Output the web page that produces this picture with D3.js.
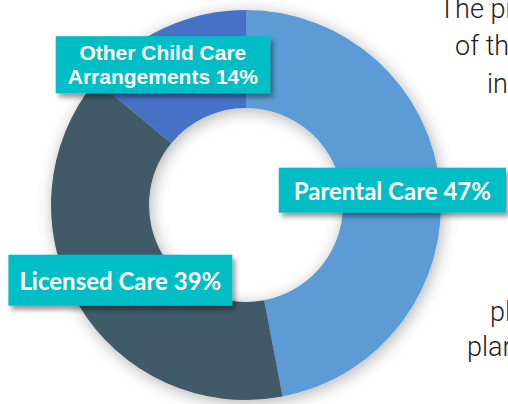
<!DOCTYPE html>
<html>
<head>
<meta charset="utf-8">
<script src="https://cdn.jsdelivr.net/npm/d3@7"></script>
<style>
  html, body { margin: 0; padding: 0; background: #fff; overflow: hidden; }
</style>
</head>
<body>
<div id="chart"></div>
<script>
// data
const categories = ['Parental Care', 'Licensed Care', 'Other Child Care Arrangements'];
const values = [47, 39, 14];
const labelLines = [
  ['Parental Care 47%'],
  ['Licensed Care 39%'],
  ['Other Child Care', 'Arrangements 14%']
];
const sideText = ['The pro', 'of the', 'in', 'pl', 'plan'];

const colors = ['#5b9bd5', '#405a67', '#4472c4'];
const width = 508, height = 404;
const cx = 246, cy = 205, outerRadius = 195, innerRadius = 97;

const svg = d3.select('#chart').append('svg')
  .attr('width', width)
  .attr('height', height);

const defs = svg.append('defs');
defs.append('filter').attr('id', 'glow')
  .attr('x', '-20%').attr('y', '-20%').attr('width', '140%').attr('height', '140%')
  .append('feDropShadow')
  .attr('dx', 2).attr('dy', 3).attr('stdDeviation', 8)
  .attr('flood-color', '#000').attr('flood-opacity', 0.3);
defs.append('filter').attr('id', 'boxShadow')
  .attr('x', '-20%').attr('y', '-30%').attr('width', '140%').attr('height', '160%')
  .append('feDropShadow')
  .attr('dx', 3).attr('dy', 4).attr('stdDeviation', 2.5)
  .attr('flood-color', '#000').attr('flood-opacity', 0.4);

// side paragraph (cut off at the right edge)
const sidePos = [[439, 18], [455, 55], [487, 93], [490, 321], [467, 356]];
svg.append('g')
  .selectAll('text')
  .data(sideText)
  .join('text')
  .attr('x', (d, i) => sidePos[i][0])
  .attr('y', (d, i) => sidePos[i][1])
  .style('font-family', 'Roboto, sans-serif')
  .style('font-weight', 300)
  .style('font-size', '27px')
  .style('fill', '#222')
  .text(d => d);

const g = svg.append('g').attr('transform', `translate(${cx},${cy})`);

const pie = d3.pie().sort(null).value(d => d)(values);
const arc = d3.arc().innerRadius(innerRadius).outerRadius(outerRadius);

g.append('g')
  .attr('filter', 'url(#glow)')
  .selectAll('path')
  .data(pie)
  .join('path')
  .attr('d', arc)
  .attr('fill', (d, i) => colors[i]);

// label boxes
const labelStyle = [
  { font: 'Lato, sans-serif', size: 24, padX: 15, padY: 8, dx: 1, dy: 0 },
  { font: 'Lato, sans-serif', size: 24, padX: 11, padY: 11, dx: 0, dy: 2 },
  { font: '"Liberation Sans", Arial, sans-serif', size: 21, padX: 12, padY: 5, dx: -21, dy: -8 }
];

pie.forEach((d, i) => {
  const [x, y] = arc.centroid(d);
  const st = labelStyle[i];
  const lg = g.append('g').attr('transform', `translate(${x + st.dx},${y + st.dy})`);
  const rect = lg.append('rect').attr('fill', '#03bec5').attr('filter', 'url(#boxShadow)');
  const lh = st.size * 1.15;
  const n = labelLines[i].length;
  const t = lg.append('text')
    .attr('text-anchor', 'middle')
    .style('font-family', st.font)
    .style('font-weight', 700)
    .style('font-size', st.size + 'px')
    .style('fill', '#fff');
  labelLines[i].forEach((line, j) => {
    t.append('tspan')
      .attr('x', 0)
      .attr('y', (j - (n - 1) / 2) * lh)
      .attr('dy', '0.35em')
      .text(line);
  });
  const bb = t.node().getBBox();
  rect.attr('x', bb.x - st.padX)
    .attr('y', bb.y - st.padY)
    .attr('width', bb.width + 2 * st.padX)
    .attr('height', bb.height + 2 * st.padY);
});
</script>
</body>
</html>
